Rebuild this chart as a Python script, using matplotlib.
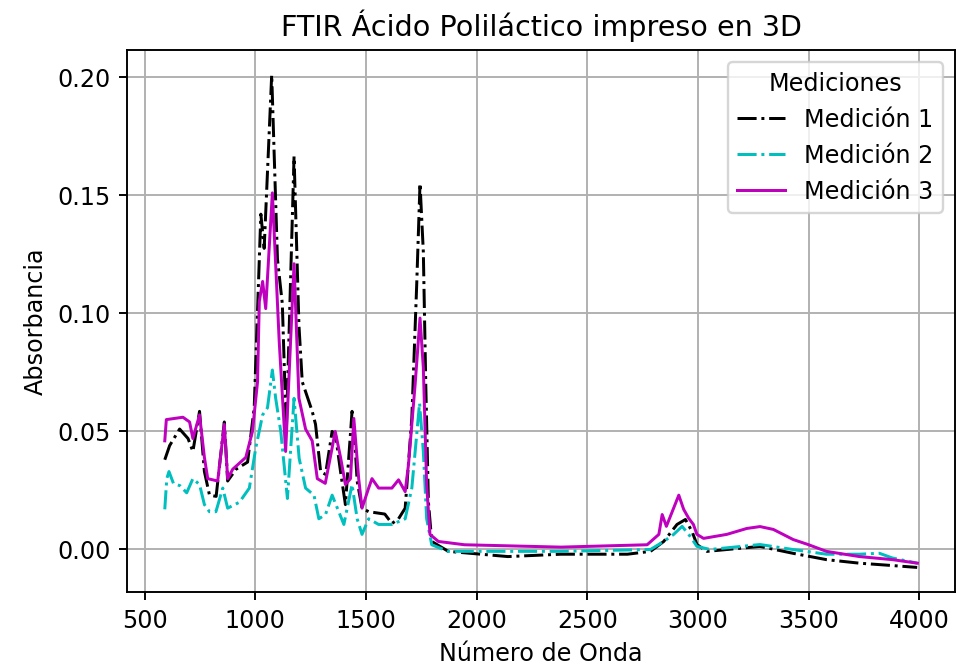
import matplotlib
matplotlib.use("Agg")
import matplotlib.pyplot as plt

# numero de onda (cm-1) y absorbancia
onda1 = [591, 613, 658, 696, 718, 748, 770, 793, 823, 860, 875, 913, 965, 995,
         1025, 1040, 1074, 1100, 1122, 1140, 1175, 1197, 1212, 1257, 1272, 1295,
         1317, 1347, 1362, 1385, 1407, 1437, 1450, 1460, 1482, 1512, 1585, 1617,
         1647, 1677, 1707, 1729, 1744, 1759, 1770, 1782, 1797, 1872, 2141, 2381,
         2681, 2785, 2845, 2905, 2943, 2973, 2995, 3040, 3280, 3428, 3580, 3729,
         3878, 3990]
abs1 = [0.038, 0.044, 0.051, 0.047, 0.0415, 0.0585, 0.033, 0.023, 0.0225, 0.054,
        0.029, 0.034, 0.037, 0.060, 0.142, 0.1275, 0.201, 0.123, 0.104, 0.050,
        0.1665, 0.095, 0.071, 0.0585, 0.053, 0.033, 0.0318, 0.050, 0.0487, 0.033,
        0.019, 0.0585, 0.045, 0.029, 0.0175, 0.016, 0.015, 0.011, 0.013, 0.0175,
        0.0557, 0.112, 0.155, 0.126, 0.070, 0.020, 0.0034, -0.0008, -0.003, -0.002,
        -0.002, -0.0008, 0.0034, 0.0106, 0.0127, 0.0076, 0.0021, -0.0008, 0.0013,
        -0.0016, -0.0043, -0.0058, -0.0068, -0.0076]

onda2 = [591, 600, 610, 630, 660, 690, 718, 748, 770, 793, 822, 853, 875, 928,
         973, 1002, 1033, 1055, 1077, 1092, 1115, 1145, 1175, 1198, 1227, 1265,
         1287, 1317, 1347, 1377, 1400, 1437, 1460, 1482, 1512, 1557, 1617, 1677,
         1707, 1742, 1759, 1774, 1797, 1872, 2381, 2785, 2845, 2890, 2928, 2965,
         2995, 3055, 3280, 3428, 3580, 3729, 3819, 3878, 3991]
abs2 = [0.017, 0.030, 0.033, 0.028, 0.027, 0.024, 0.030, 0.0275, 0.019, 0.016,
        0.016, 0.026, 0.0175, 0.020, 0.026, 0.043, 0.057, 0.060, 0.076, 0.064,
        0.050, 0.0216, 0.064, 0.0386, 0.026, 0.023, 0.013, 0.0148, 0.023, 0.016,
        0.0106, 0.0275, 0.013, 0.0064, 0.013, 0.0106, 0.0106, 0.013, 0.026, 0.062,
        0.0415, 0.013, 0.002, -0.0008, -0.0008, 0.0, 0.0034, 0.0064, 0.0098,
        0.0055, 0.0013, 0.0, 0.0021, 0.0, -0.002, -0.002, -0.0016, -0.0036, -0.0058]

onda3 = [591, 598, 673, 703, 718, 748, 770, 785, 830, 860, 875, 898, 957, 987,
         1010, 1018, 1033, 1047, 1077, 1108, 1137, 1175, 1197, 1227, 1257, 1280,
         1316, 1347, 1361, 1385, 1407, 1430, 1445, 1467, 1482, 1512, 1527, 1557,
         1617, 1647, 1677, 1692, 1722, 1744, 1759, 1774, 1789, 1827, 1945, 2381,
         2770, 2823, 2838, 2857, 2913, 2935, 2958, 2979, 2995, 3025, 3130, 3220,
         3280, 3340, 3430, 3497, 3580, 3729, 3878, 3991]
abs3 = [0.046, 0.055, 0.056, 0.054, 0.047, 0.057, 0.039, 0.030, 0.029, 0.053,
        0.030, 0.034, 0.039, 0.050, 0.071, 0.105, 0.1135, 0.102, 0.151, 0.088,
        0.0415, 0.121, 0.064, 0.051, 0.046, 0.030, 0.028, 0.043, 0.050, 0.039,
        0.0275, 0.030, 0.0555, 0.030, 0.0175, 0.026, 0.030, 0.026, 0.026, 0.0295,
        0.0245, 0.036, 0.070, 0.098, 0.077, 0.0275, 0.0064, 0.0034, 0.002, 0.001,
        0.002, 0.0064, 0.0148, 0.0098, 0.023, 0.017, 0.0132, 0.0106, 0.0064, 0.0047,
        0.0064, 0.0089, 0.0097, 0.0085, 0.0042, 0.0021, -0.0008, -0.003, -0.0043,
        -0.0058]

fig = plt.figure(figsize=(956 / 172, 669 / 172), dpi=172)
ax = fig.add_subplot(111)
fig.subplots_adjust(left=0.133, right=0.999, top=0.925, bottom=0.115)

ax.plot(onda1, abs1, 'k-.', lw=1.25, label='Medición 1')
ax.plot(onda2, abs2, 'c-.', lw=1.25, label='Medición 2')
ax.plot(onda3, abs3, 'm-', lw=1.25, label='Medición 3')

ax.set_title('FTIR Ácido Poliláctico impreso en 3D', fontsize=12)
ax.set_xlabel('Número de Onda')
ax.set_ylabel('Absorbancia')
ax.set_xticks([500, 1000, 1500, 2000, 2500, 3000, 3500, 4000])
ax.grid(True)
ax.legend(title='Mediciones', loc='upper right')

fig.savefig('out.png', dpi=172)
